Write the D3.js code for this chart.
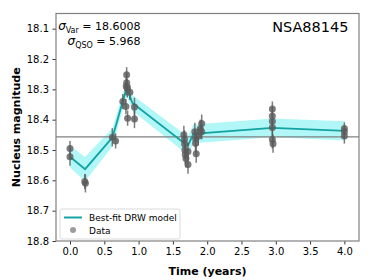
<!DOCTYPE html>
<html>
<head>
<meta charset="utf-8">
<script src="https://cdn.jsdelivr.net/npm/d3@7"></script>
<style>
  body { margin: 0; background: #fff; }
  svg { display: block; font-family: "DejaVu Sans", sans-serif; }
</style>
</head>
<body>
<div id="chart"></div>
<script>
// observed nucleus photometry
const obsTime = [0.00, 0.00, 0.215, 0.225, 0.617, 0.665,
  0.826, 0.826, 0.82, 0.835, 0.873, 0.77, 0.815, 0.84, 0.94, 0.94,
  1.66, 1.67, 1.67, 1.675, 1.68, 1.69, 1.72, 1.72,
  1.82, 1.83, 1.83, 1.84, 1.87, 1.90, 1.92, 1.92,
  2.95, 2.95, 2.95, 2.95, 2.95, 2.96,
  4.00, 4.00, 4.00];
const obsMag = [18.495, 18.522, 18.604, 18.610, 18.458, 18.470,
  18.252, 18.278, 18.290, 18.297, 18.310, 18.340, 18.357, 18.395, 18.358, 18.398,
  18.450, 18.465, 18.480, 18.500, 18.515, 18.528, 18.548, 18.505,
  18.440, 18.462, 18.478, 18.512, 18.455, 18.430, 18.413, 18.440,
  18.365, 18.388, 18.405, 18.426, 18.465, 18.479,
  18.429, 18.440, 18.454];
const obsErr = [0.025, 0.03, 0.025, 0.03, 0.03, 0.025,
  0.025, 0.03, 0.03, 0.03, 0.025, 0.025, 0.025, 0.025, 0.03, 0.03,
  0.03, 0.03, 0.03, 0.03, 0.03, 0.03, 0.03, 0.03,
  0.03, 0.03, 0.03, 0.03, 0.03, 0.03, 0.03, 0.025,
  0.025, 0.03, 0.03, 0.03, 0.03, 0.03,
  0.02, 0.02, 0.025];

// best-fit DRW model and its 1-sigma band
const modelTime = [0.00, 0.22, 0.62, 0.826, 0.91, 1.676, 1.72, 1.80, 2.95, 4.01];
const modelMag = [18.522, 18.563, 18.458, 18.295, 18.345, 18.479, 18.485, 18.447, 18.427, 18.437];
const modelSig = [0.036, 0.040, 0.030, 0.026, 0.026, 0.030, 0.032, 0.031, 0.031, 0.032];

const meanMag = 18.457;
const xTicks = [0, 0.5, 1, 1.5, 2, 2.5, 3, 3.5, 4];
const yTicks = [18.1, 18.2, 18.3, 18.4, 18.5, 18.6, 18.7, 18.8];

const width = 374, height = 280;
const margin = { top: 13.5, right: 15, bottom: 39, left: 56 };

const svg = d3.select("#chart")
  .append("svg")
  .attr("width", width)
  .attr("height", height);

const x = d3.scaleLinear()
  .domain([-0.204, 4.213])
  .range([margin.left, width - margin.right]);
const y = d3.scaleLinear()
  .domain([18.05, 18.8])
  .range([margin.top, height - margin.bottom]);

const model = modelTime.map((t, i) => ({ t, m: modelMag[i], s: modelSig[i] }));

// uncertainty band
svg.append("path")
  .datum(model)
  .attr("fill", "#00e5e5")
  .attr("fill-opacity", 0.3)
  .attr("d", d3.area()
    .x(d => x(d.t))
    .y0(d => y(d.m - d.s))
    .y1(d => y(d.m + d.s)));

// mean magnitude
svg.append("line")
  .attr("x1", margin.left).attr("x2", width - margin.right)
  .attr("y1", y(meanMag)).attr("y2", y(meanMag))
  .attr("stroke", "#808080")
  .attr("stroke-width", 1.2);

// model line
svg.append("path")
  .datum(model)
  .attr("fill", "none")
  .attr("stroke", "#14a3a3")
  .attr("stroke-width", 1.9)
  .attr("d", d3.line().x(d => x(d.t)).y(d => y(d.m)));

// data with error bars
const obs = obsTime.map((t, i) => ({ t, m: obsMag[i], e: obsErr[i] }));
const pts = svg.append("g");
pts.selectAll("line")
  .data(obs)
  .join("line")
  .attr("x1", d => x(d.t)).attr("x2", d => x(d.t))
  .attr("y1", d => y(d.m - d.e)).attr("y2", d => y(d.m + d.e))
  .attr("stroke", "#5a5a5a")
  .attr("stroke-opacity", 0.8)
  .attr("stroke-width", 1.5);
pts.selectAll("circle")
  .data(obs)
  .join("circle")
  .attr("cx", d => x(d.t))
  .attr("cy", d => y(d.m))
  .attr("r", 3.5)
  .attr("fill", "#5a5a5a")
  .attr("fill-opacity", 0.8);

// axes
const xAxis = svg.append("g")
  .attr("transform", `translate(0,${height - margin.bottom})`)
  .call(d3.axisBottom(x).tickValues(xTicks).tickFormat(d3.format(".1f")).tickSizeOuter(0).tickSize(3.5).tickPadding(3.5));
const yAxis = svg.append("g")
  .attr("transform", `translate(${margin.left},0)`)
  .call(d3.axisLeft(y).tickValues(yTicks).tickFormat(d3.format(".1f")).tickSizeOuter(0).tickSize(3.5).tickPadding(3.5));
[xAxis, yAxis].forEach(g => {
  g.select(".domain").remove();
  g.selectAll("text").attr("font-size", 10).attr("fill", "#000").attr("font-family", "DejaVu Sans");
  g.selectAll("line").attr("stroke", "#000").attr("stroke-width", 0.8);
});

// frame
svg.append("rect")
  .attr("x", margin.left).attr("y", margin.top)
  .attr("width", width - margin.right - margin.left)
  .attr("height", height - margin.bottom - margin.top)
  .attr("fill", "none")
  .attr("stroke", "#808080")
  .attr("stroke-width", 1.2);

// axis labels
svg.append("text")
  .attr("x", (margin.left + width - margin.right) / 2)
  .attr("y", 275)
  .attr("text-anchor", "middle")
  .attr("font-size", 11)
  .attr("font-weight", "bold")
  .text("Time (years)");
svg.append("text")
  .attr("transform", `translate(20,${(margin.top + height - margin.bottom) / 2}) rotate(-90)`)
  .attr("text-anchor", "middle")
  .attr("font-size", 11)
  .attr("font-weight", "bold")
  .text("Nucleus magnitude");

// annotations
const ann = svg.append("g").attr("font-size", 11);
const t1 = ann.append("text").attr("x", 140.5).attr("y", 30).attr("text-anchor", "end");
t1.append("tspan").attr("font-style", "italic").attr("font-size", 12).text("σ");
t1.append("tspan").attr("font-size", 8).attr("dy", 2.5).text("Var");
t1.append("tspan").attr("dy", -2.5).text(" = 18.6008");
const t2 = ann.append("text").attr("x", 140.5).attr("y", 45).attr("text-anchor", "end");
t2.append("tspan").attr("font-style", "italic").attr("font-size", 12).text("σ");
t2.append("tspan").attr("font-size", 8).attr("dy", 2.5).text("QSO");
t2.append("tspan").attr("dy", -2.5).text(" = 5.968");

svg.append("text")
  .attr("x", 348.5).attr("y", 32)
  .attr("text-anchor", "end")
  .attr("font-size", 14.5)
  .text("NSA88145");

// legend
const lg = svg.append("g");
lg.append("rect")
  .attr("x", 60).attr("y", 209)
  .attr("width", 120).attr("height", 30)
  .attr("rx", 2)
  .attr("fill", "#fff").attr("fill-opacity", 0.8)
  .attr("stroke", "#d0d0d0").attr("stroke-width", 0.8);
lg.append("line")
  .attr("x1", 64).attr("x2", 82).attr("y1", 217.5).attr("y2", 217.5)
  .attr("stroke", "#14a3a3").attr("stroke-width", 2);
lg.append("circle")
  .attr("cx", 73).attr("cy", 230).attr("r", 3)
  .attr("fill", "#5a5a5a").attr("fill-opacity", 0.6);
lg.append("text").attr("x", 89).attr("y", 221).attr("font-size", 9).text("Best-fit DRW model");
lg.append("text").attr("x", 89).attr("y", 233.5).attr("font-size", 9).text("Data");
</script>
</body>
</html>
